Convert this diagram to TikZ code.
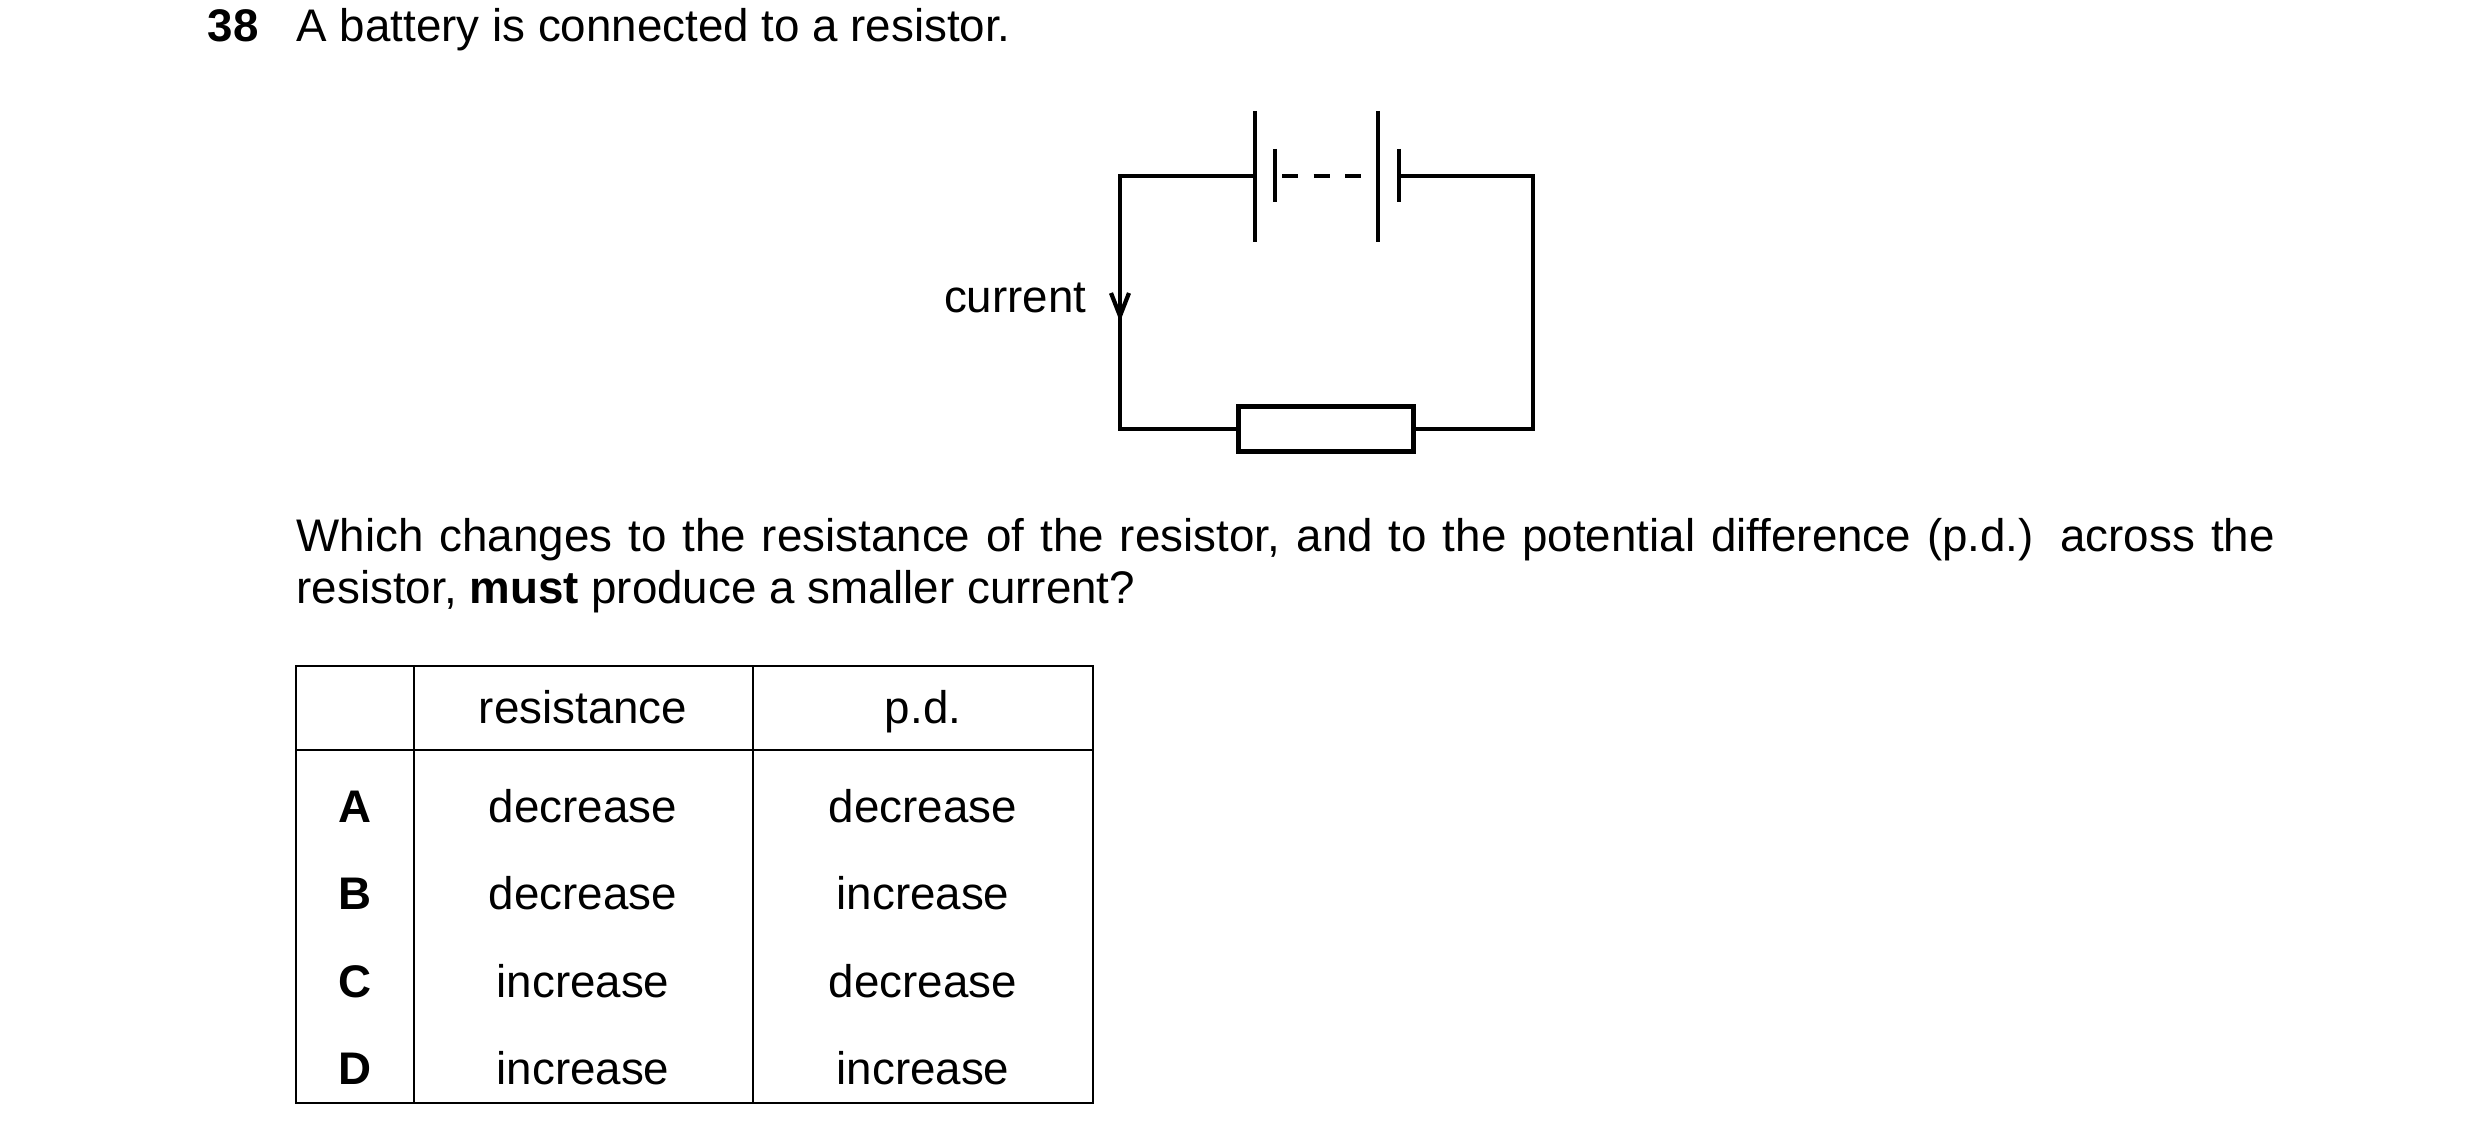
\documentclass[tikz,border=0pt]{standalone}
\usepackage{fontspec}
\setmainfont{Liberation Sans}
\usetikzlibrary{positioning}
\tikzset{
    wire/.style={line width=1.2pt},
    plate/.style={line width=1.2pt},
    grid/.style={line width=0.7pt},
    txt/.style={inner sep=0pt, font=\fontsize{13pt}{15pt}\selectfont},
    cell/.style={txt, anchor=base}
}
\begin{document}
\begin{tikzpicture}[x=0.01cm,y=-0.01cm]
    \useasboundingbox (0,0) rectangle (2480,1143);

    % heading and question
    \node[txt, anchor=base west] (num) at (207,42) {\textbf{38}};
    \node[txt, anchor=base west] (head) at (296,42) {A battery is connected to a resistor.};
    \node[txt, anchor=north west, text width=19.77cm, align=justify,
          font=\fontsize{13pt}{14.8pt}\selectfont] (quest) at (296,518)
        {Which changes to the resistance of the resistor, and to the potential difference (p.d.) across the\linebreak resistor, \textbf{must} produce a smaller current?};

    % circuit corners
    \coordinate (tl) at (1120,176);  \coordinate (tr) at (1533,176);
    \coordinate (bl) at (1120,429);  \coordinate (br) at (1533,429);
    \coordinate (c1) at (1255,176);  \coordinate (c2) at (1399,176);
    \coordinate (s1) at (1275,176);  \coordinate (l2) at (1378,176);
    \coordinate (r1) at (1239,429);  \coordinate (r2) at (1414,429);

    \draw[wire] (c1) -- (tl) -- (bl) -- (r1);
    \draw[wire] (r2) -- (br) -- (tr) -- (c2);
    \draw[wire, dash pattern=on 4.5pt off 4.5pt, dash phase=-2pt] (s1) -- (l2);

    % cells
    \draw[plate] (1255,111) -- (1255,242);
    \draw[plate] (1275,149) -- (1275,202);
    \draw[plate] (1378,111) -- (1378,242);
    \draw[plate] (1399,149) -- (1399,202);

    % resistor
    \node[draw, line width=1.2pt, minimum width=1.75cm, minimum height=0.45cm, inner sep=0pt]
        (res) at (1326,429) {};

    % current arrow
    \draw[wire] (1111,293) -- (1120,316) -- (1129,293);
    \node[txt, anchor=base east] (cur) at (1087,313) {current};

    % table
    \draw[grid] (296,666) rectangle (1093,1103);
    \draw[grid] (296,750) -- (1093,750);
    \draw[grid] (414,666) -- (414,1103);
    \draw[grid] (753,666) -- (753,1103);

    \node[cell] (hres) at (583,724) {resistance};
    \node[cell] (hpd)  at (923,724) {p.d.};
    \foreach \y/\k/\r/\p in {823/A/decrease/decrease, 910/B/decrease/increase,
                             998/C/increase/decrease, 1085/D/increase/increase} {
        \node[cell] (k\k) at (355,\y) {\textbf{\k}};
        \node[cell] (r\k) at (583,\y) {\r};
        \node[cell] (p\k) at (923,\y) {\p};
    }
\end{tikzpicture}
\end{document}
